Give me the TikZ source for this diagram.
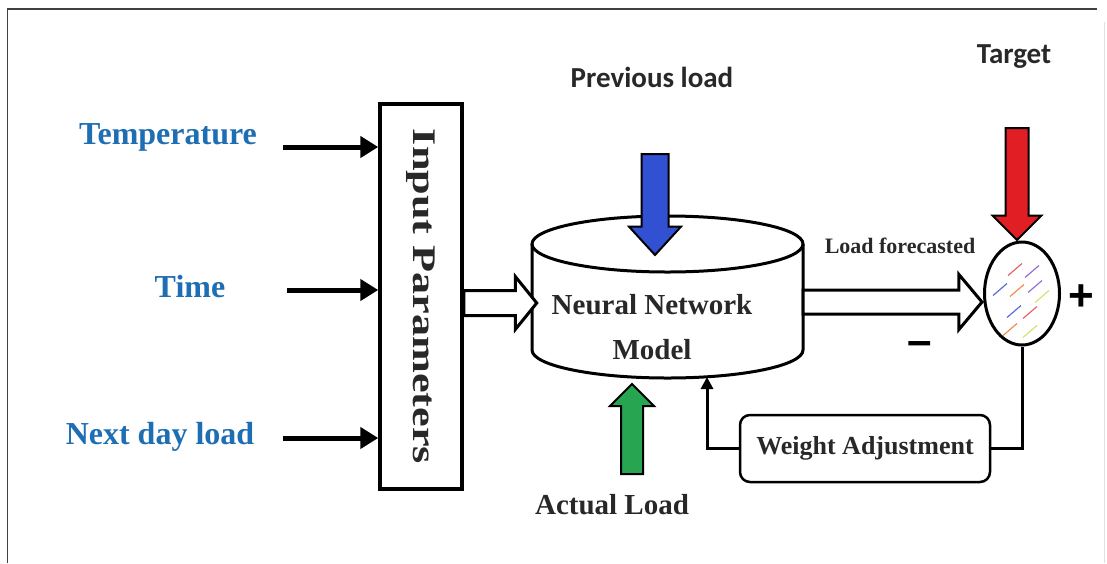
\documentclass[tikz,border=0pt]{standalone}
\usepackage{fontspec}
\setmainfont{Liberation Serif}
\newfontfamily\labelfont{Carlito}
\newfontfamily\signfont{Liberation Sans}
\usepackage{graphicx}
\usetikzlibrary{arrows.meta,shapes.geometric,shapes.arrows,calc}
\definecolor{tempblue}{RGB}{30,110,180}
\definecolor{inkgray}{RGB}{40,40,40}
\definecolor{prevblue}{RGB}{50,80,210}
\definecolor{targetred}{RGB}{225,30,35}
\definecolor{actualgreen}{RGB}{40,165,80}
\definecolor{dashred}{RGB}{235,100,100}
\definecolor{dashblue}{RGB}{90,110,215}
\definecolor{dashpurple}{RGB}{150,110,215}
\definecolor{dashyellow}{RGB}{215,225,110}
\definecolor{dashorange}{RGB}{240,140,80}

\begin{document}
\begin{tikzpicture}[x=1pt,y=-1pt,
  inlabel/.style={font=\fontsize{32}{36}\selectfont\bfseries, text=tempblue},
  inarrow/.style={line width=5pt, -{Triangle[length=18pt,width=21pt]}},
  serifbold/.style={font=\fontsize{29}{33}\selectfont\bfseries, text=inkgray},
  sanslabel/.style={font=\labelfont\fontsize{29}{33}\selectfont\bfseries, text=inkgray},
  hollow/.style={single arrow, draw, line width=3pt, fill=white, inner xsep=0pt,
    outer sep=0pt, anchor=tail},
  blockarrow/.style={single arrow, draw=black, line width=2pt, inner xsep=0pt,
    outer sep=0pt, single arrow tip angle=90, anchor=tip},
  thickline/.style={line width=3pt}
]
\useasboundingbox (0,0) rectangle (1107,563);
% frame
\draw[line width=1.5pt, black!75] (7.5,563) -- (7.5,9) -- (1097,9);
\draw[line width=1pt, black!12] (1104,22) -- (1104,563);

% inputs
\node[inlabel] (temp) at (168,137) {Temperature};
\node[inlabel] (time) at (190,287) {Time};
\node[inlabel] (nextday) at (160,437) {Next day load};
\node[draw, line width=3.5pt, minimum width=82pt, minimum height=385pt, inner sep=0pt,
  font=\fontsize{33}{36}\selectfont\bfseries, text=inkgray] (ip) at (421,296.5)
  {\rotatebox{-90}{\scalebox{1.34}[1]{Input Parameters}}};
\coordinate (tempin) at (283,147);
\coordinate (timein) at (287,290);
\coordinate (nextin) at (283,438);
\foreach \c in {tempin,timein,nextin}
  \draw[inarrow] (\c) -- (ip.west |- \c);

% neural network model
\draw[thickline, fill=white] (532,244) -- (532,350)
  arc[start angle=180, end angle=0, x radius=135.5, y radius=28] -- (803,244);
\draw[thickline] (667.5,244) ellipse [x radius=135.5, y radius=28];
\node[serifbold, font=\fontsize{29}{45}\selectfont\bfseries, align=center] (nn) at (652,327)
  {Neural Network\\Model};
\node[hollow, minimum height=73pt, inner ysep=11pt, single arrow head extend=14pt,
  single arrow tip angle=102] (ipout) at (ip.east |- 0,303) {};

\node[sanslabel] (prev) at (652,77) {Previous load};
\node[blockarrow, fill=prevblue, rotate=-90, minimum height=101pt, inner ysep=12.5pt,
  single arrow head extend=12.5pt, single arrow tip angle=85] (prevarrow) at (655,255) {};
\node[serifbold] (actual) at (612,505) {Actual Load};
\node[blockarrow, fill=actualgreen, rotate=90, minimum height=90pt, inner ysep=10pt,
  single arrow head extend=11pt] (actualarrow) at (632,384) {};

% comparison
\node[serifbold, font=\fontsize{22}{26}\selectfont\bfseries] (lf) at (900,246) {Load forecasted};
\node[draw, ellipse, thickline, minimum width=75pt, minimum height=103pt, inner sep=0pt]
  (sum) at (1022,293.5) {};
\foreach \dx/\dy/\c in {-14/-18/dashred, 3/-16/dashpurple, -29/2/dashblue, -12/3/dashorange,
    6/-1/dashpurple, 13/9/dashyellow, -15/24/dashblue, 1/25/dashred, -19/42/dashorange,
    1/44/dashyellow}
  \draw[\c, line width=1.2pt] ($(sum)+(\dx,\dy)$) -- ++(14,-12);
\node[hollow, minimum height=179pt, inner ysep=10.5pt, single arrow head extend=15.5pt,
  single arrow tip angle=100] (nnout) at (803,302) {};
\node[sanslabel] (target) at (1014,57) {Target};
\node[blockarrow, fill=targetred, rotate=-90, minimum height=112pt, inner ysep=10.5pt,
  single arrow head extend=13pt] (targetarrow) at (1017,240) {};
\node[font=\signfont\fontsize{44}{44}\selectfont\bfseries] (plus) at (1081,298) {+};
\node[font=\signfont\fontsize{44}{44}\selectfont\bfseries] (minus) at (920,348) {–};

% feedback
\node[draw, line width=2.5pt, rounded corners=10pt, minimum width=250pt, minimum height=67pt,
  serifbold, font=\fontsize{26}{30}\selectfont\bfseries] (wa) at (865,448.5) {Weight Adjustment};
\coordinate (fbin) at (707,377);
\draw[thickline] (sum.south) |- (wa.east);
\draw[thickline, -{Triangle[length=12pt,width=12pt]}] (wa.west) -| (fbin);
\end{tikzpicture}
\end{document}
